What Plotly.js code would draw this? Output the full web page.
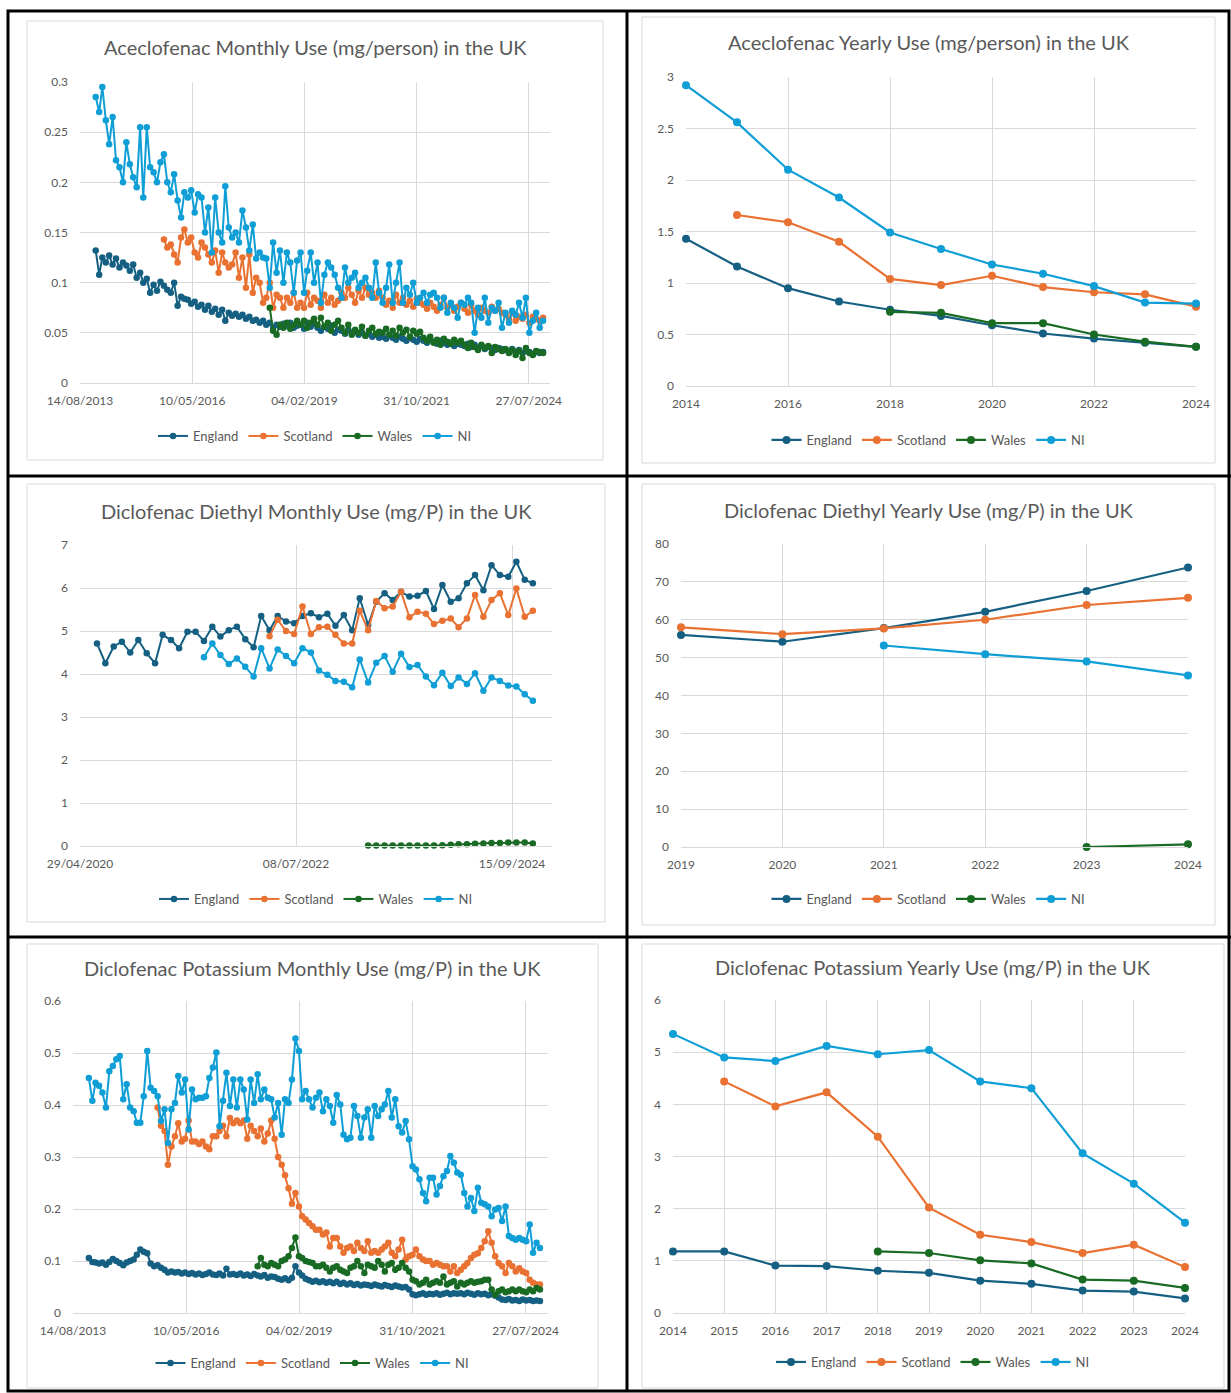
<!DOCTYPE html>
<html>
<head>
<meta charset="utf-8">
<script src="https://cdn.plot.ly/plotly-3.0.1.min.js"></script>
<style>
  html, body { margin: 0; padding: 0; background: #ffffff; }
  #chart { width: 1231px; height: 1393px; }
</style>
</head>
<body>
<div id="chart"></div>
<script>
// ---------- Series names ----------
const regions = ['England', 'Scotland', 'Wales', 'NI'];

// ---------- Aceclofenac monthly use (mg/person) ----------
const accStart = { England: '2014-01', Scotland: '2015-09', Wales: '2018-04', NI: '2014-01' };
const accEngland = [
  0.132, 0.108, 0.125, 0.120, 0.127, 0.118, 0.124, 0.115, 0.120, 0.117, 0.112, 0.118,
  0.105, 0.110, 0.100, 0.104, 0.090, 0.098, 0.092, 0.101, 0.097, 0.093, 0.090, 0.100,
  0.077, 0.086, 0.084, 0.083, 0.079, 0.081, 0.076, 0.078, 0.073, 0.077, 0.071, 0.074,
  0.068, 0.073, 0.062, 0.070, 0.067, 0.069, 0.066, 0.068, 0.064, 0.066, 0.062, 0.063,
  0.060, 0.062, 0.058, 0.060, 0.055, 0.058, 0.056, 0.059, 0.057, 0.060, 0.055, 0.057,
  0.058, 0.054, 0.060, 0.056, 0.059, 0.055, 0.052, 0.056, 0.054, 0.057, 0.050, 0.053,
  0.052, 0.049, 0.053, 0.050, 0.051, 0.048, 0.050, 0.047, 0.049, 0.046, 0.048, 0.045,
  0.046, 0.044, 0.047, 0.045, 0.043, 0.046, 0.044, 0.042, 0.045, 0.043, 0.041, 0.044,
  0.042, 0.040, 0.043, 0.041, 0.039, 0.042, 0.040, 0.038, 0.040, 0.037, 0.039, 0.038,
  0.037, 0.039, 0.036, 0.038, 0.035, 0.037, 0.034, 0.036, 0.035, 0.033, 0.035, 0.034,
  0.033, 0.032, 0.034, 0.031, 0.033, 0.030, 0.032, 0.031, 0.029, 0.031, 0.030, 0.031
];
const accScotland = [
  0.143, 0.135, 0.138, 0.128,
  0.120, 0.145, 0.153, 0.140, 0.145, 0.130, 0.125, 0.140, 0.135, 0.128, 0.120, 0.132,
  0.110, 0.130, 0.120, 0.115, 0.118, 0.130, 0.105, 0.125, 0.095, 0.128, 0.090, 0.105,
  0.100, 0.080, 0.085, 0.100, 0.075, 0.088, 0.085, 0.075, 0.085, 0.080, 0.090, 0.075,
  0.080, 0.075, 0.090, 0.078, 0.085, 0.082, 0.075, 0.088, 0.080, 0.085, 0.078, 0.082,
  0.090, 0.085, 0.095, 0.088, 0.080, 0.092, 0.085, 0.095, 0.088, 0.090, 0.085, 0.092,
  0.085, 0.078, 0.082, 0.075, 0.088, 0.080, 0.085, 0.078, 0.082, 0.076, 0.084, 0.080,
  0.078, 0.074, 0.080, 0.076, 0.072, 0.078, 0.085, 0.075, 0.078, 0.072, 0.076, 0.080,
  0.074, 0.070, 0.078, 0.072, 0.068, 0.075, 0.072, 0.070, 0.076, 0.072, 0.074, 0.070,
  0.068, 0.064, 0.070, 0.062, 0.066, 0.064, 0.068, 0.060, 0.066, 0.064, 0.062, 0.065
];
const accWales = [
  0.075, 0.052, 0.048, 0.058, 0.055, 0.060, 0.054, 0.058, 0.062,
  0.058, 0.062, 0.055, 0.060, 0.064, 0.058, 0.065, 0.056, 0.060, 0.052, 0.058, 0.062,
  0.055, 0.050, 0.058, 0.048, 0.053, 0.050, 0.056, 0.047, 0.052, 0.055, 0.049, 0.051,
  0.050, 0.054, 0.048, 0.052, 0.047, 0.055, 0.050, 0.053, 0.046, 0.052, 0.049, 0.051,
  0.045, 0.042, 0.046, 0.040, 0.043, 0.038, 0.044, 0.041, 0.039, 0.043, 0.040, 0.042,
  0.038, 0.035, 0.040, 0.036, 0.033, 0.038, 0.035, 0.037, 0.030, 0.036, 0.034, 0.032,
  0.034, 0.030, 0.033, 0.028, 0.032, 0.025, 0.035, 0.030, 0.028, 0.032, 0.031, 0.030
];
const accNI = [
  0.285, 0.270, 0.295, 0.262, 0.238, 0.265, 0.222, 0.215, 0.200, 0.240, 0.218, 0.205,
  0.195, 0.255, 0.185, 0.255, 0.215, 0.210, 0.200, 0.220, 0.228, 0.200, 0.190, 0.208,
  0.182, 0.165, 0.190, 0.185, 0.192, 0.170, 0.188, 0.185, 0.150, 0.175, 0.130, 0.185,
  0.150, 0.140, 0.196, 0.155, 0.145, 0.150, 0.140, 0.172, 0.155, 0.132, 0.158, 0.124,
  0.130, 0.125, 0.124, 0.095, 0.140, 0.110, 0.132, 0.100, 0.130, 0.120, 0.090, 0.122,
  0.130, 0.090, 0.112, 0.130, 0.100, 0.120, 0.080, 0.108, 0.120, 0.115, 0.108, 0.095,
  0.085, 0.115, 0.100, 0.105, 0.110, 0.095, 0.100, 0.105, 0.095, 0.085, 0.120, 0.090,
  0.080, 0.095, 0.118, 0.080, 0.100, 0.120, 0.080, 0.095, 0.088, 0.100, 0.080, 0.085,
  0.090, 0.080, 0.088, 0.090, 0.085, 0.075, 0.085, 0.070, 0.080, 0.075, 0.065, 0.080,
  0.078, 0.085, 0.080, 0.050, 0.075, 0.065, 0.085, 0.060, 0.075, 0.072, 0.080, 0.055,
  0.070, 0.060, 0.072, 0.068, 0.080, 0.065, 0.085, 0.050, 0.062, 0.070, 0.055, 0.062
];

// ---------- Aceclofenac yearly use (mg/person) ----------
const accYears = { England: [2014, 2015, 2016, 2017, 2018, 2019, 2020, 2021, 2022, 2023, 2024],
                   Scotland: [2015, 2016, 2017, 2018, 2019, 2020, 2021, 2022, 2023, 2024],
                   Wales: [2018, 2019, 2020, 2021, 2022, 2023, 2024],
                   NI: [2014, 2015, 2016, 2017, 2018, 2019, 2020, 2021, 2022, 2023, 2024] };
const accYearEngland = [1.43, 1.16, 0.95, 0.82, 0.74, 0.68, 0.59, 0.51, 0.46, 0.42, 0.38];
const accYearScotland = [1.66, 1.59, 1.40, 1.04, 0.98, 1.07, 0.96, 0.91, 0.89, 0.77];
const accYearWales = [0.72, 0.71, 0.61, 0.61, 0.50, 0.43, 0.38];
const accYearNI = [2.92, 2.56, 2.10, 1.83, 1.49, 1.33, 1.18, 1.09, 0.97, 0.81, 0.80];

// ---------- Diclofenac diethyl monthly use (mg/P) ----------
const ddStart = { England: '2020-07', Scotland: '2022-04', Wales: '2023-04', NI: '2021-08' };
const ddEngland = [
  4.71, 4.25, 4.64, 4.75, 4.50, 4.79, 4.48, 4.25, 4.91, 4.79, 4.60, 4.98, 4.98, 4.77,
  5.10, 4.87, 5.02, 5.10, 4.81, 4.62, 5.35, 5.02, 5.35, 5.22, 5.18, 5.35, 5.41, 5.32,
  5.40, 5.12, 5.37, 5.02, 5.76, 5.14, 5.68, 5.88, 5.72, 5.91, 5.80, 5.82, 5.93, 5.51,
  6.07, 5.68, 5.76, 6.11, 6.30, 5.95, 6.53, 6.30, 6.26, 6.61, 6.19, 6.11
];
const ddScotland = [
  4.88, 5.26, 5.00, 4.93, 5.57, 4.93, 5.09, 5.10, 4.91, 4.71, 4.71, 5.47, 5.02, 5.70,
  5.53, 5.57, 5.91, 5.32, 5.45, 5.40, 5.16, 5.24, 5.29, 5.09, 5.29, 5.84, 5.33, 5.72,
  5.88, 5.37, 5.99, 5.33, 5.47
];
const ddWales = [
  0.01, 0.01, 0.01, 0.01, 0.01, 0.01, 0.01, 0.01, 0.01, 0.02, 0.03, 0.04, 0.04, 0.05,
  0.06, 0.07, 0.07, 0.08, 0.08, 0.08, 0.06
];
const ddNI = [
  4.39, 4.71, 4.44, 4.23, 4.36, 4.17, 3.94, 4.60, 4.13, 4.57, 4.42, 4.25, 4.60, 4.50,
  4.08, 3.98, 3.84, 3.82, 3.69, 4.34, 3.80, 4.26, 4.42, 4.05, 4.47, 4.16, 4.21, 3.94,
  3.74, 4.03, 3.72, 3.92, 3.77, 4.02, 3.61, 3.92, 3.84, 3.73, 3.71, 3.53, 3.38
];

// ---------- Diclofenac diethyl yearly use (mg/P) ----------
const ddYears = { England: [2019, 2020, 2021, 2022, 2023, 2024],
                  Scotland: [2019, 2020, 2021, 2022, 2023, 2024],
                  Wales: [2023, 2024],
                  NI: [2021, 2022, 2023, 2024] };
const ddYearEngland = [56.0, 54.2, 57.8, 62.1, 67.6, 73.8];
const ddYearScotland = [58.0, 56.2, 57.7, 60.0, 63.9, 65.8];
const ddYearWales = [0.0, 0.7];
const ddYearNI = [53.2, 50.9, 49.0, 45.3];

// ---------- Diclofenac potassium monthly use (mg/P) ----------
const dpStart = { England: '2014-01', Scotland: '2015-09', Wales: '2018-02', NI: '2014-01' };
const dpEngland = [
  0.106, 0.098, 0.097, 0.095, 0.097, 0.093, 0.098, 0.104, 0.100, 0.096, 0.092, 0.097,
  0.100, 0.103, 0.112, 0.122, 0.118, 0.115, 0.095, 0.090, 0.092, 0.087, 0.083, 0.078,
  0.080, 0.078, 0.079, 0.076, 0.078, 0.075, 0.077, 0.074, 0.076, 0.073, 0.075, 0.078,
  0.074, 0.073, 0.076, 0.072, 0.085, 0.074, 0.075, 0.073, 0.076, 0.072, 0.074, 0.071,
  0.075, 0.072, 0.070, 0.073, 0.068, 0.070, 0.069, 0.066, 0.064, 0.067, 0.063, 0.068,
  0.090, 0.078, 0.072, 0.066, 0.063, 0.060, 0.062, 0.059, 0.061, 0.058, 0.060, 0.057,
  0.060, 0.056, 0.058, 0.055, 0.057, 0.054, 0.056, 0.053, 0.055, 0.054, 0.052, 0.055,
  0.053, 0.051, 0.054, 0.052, 0.050, 0.053, 0.051, 0.049, 0.050, 0.045, 0.036, 0.034,
  0.036, 0.038, 0.035, 0.037, 0.036, 0.038, 0.035, 0.037, 0.039, 0.036, 0.038, 0.037,
  0.038, 0.036, 0.039, 0.037, 0.035, 0.038, 0.036, 0.037, 0.034, 0.036, 0.033, 0.030,
  0.026, 0.025, 0.027, 0.024, 0.025, 0.023, 0.026, 0.024, 0.025, 0.023, 0.024, 0.023
];
const dpScotland = [
  0.395, 0.360, 0.350, 0.285,
  0.320, 0.340, 0.365, 0.330, 0.335, 0.370, 0.330, 0.330, 0.325, 0.330, 0.320, 0.315,
  0.340, 0.340, 0.350, 0.360, 0.340, 0.375, 0.365, 0.370, 0.365, 0.370, 0.335, 0.360,
  0.350, 0.340, 0.355, 0.330, 0.345, 0.370, 0.335, 0.300, 0.285, 0.265, 0.240, 0.210,
  0.231, 0.205, 0.186, 0.180, 0.173, 0.167, 0.160, 0.160, 0.151, 0.155, 0.128, 0.144,
  0.144, 0.128, 0.116, 0.125, 0.128, 0.119, 0.135, 0.125, 0.119, 0.138, 0.116, 0.119,
  0.116, 0.122, 0.128, 0.135, 0.116, 0.109, 0.122, 0.141, 0.103, 0.109, 0.112, 0.122,
  0.109, 0.103, 0.100, 0.100, 0.093, 0.096, 0.093, 0.090, 0.090, 0.080, 0.090, 0.077,
  0.083, 0.090, 0.096, 0.106, 0.112, 0.115, 0.125, 0.138, 0.157, 0.135, 0.109, 0.096,
  0.090, 0.077, 0.096, 0.090, 0.080, 0.086, 0.080, 0.077, 0.064, 0.058, 0.055, 0.055
];
const dpWales = [
  0.090, 0.106, 0.093, 0.090, 0.096, 0.093, 0.090, 0.100, 0.103, 0.109, 0.125,
  0.145, 0.109, 0.106, 0.100, 0.098, 0.096, 0.090, 0.090, 0.093, 0.087, 0.080, 0.087,
  0.090, 0.083, 0.080, 0.077, 0.087, 0.090, 0.100, 0.090, 0.077, 0.093, 0.090, 0.087,
  0.100, 0.093, 0.080, 0.093, 0.096, 0.083, 0.087, 0.096, 0.087, 0.080, 0.064, 0.061,
  0.055, 0.058, 0.064, 0.055, 0.058, 0.061, 0.058, 0.070, 0.055, 0.058, 0.061, 0.051,
  0.058, 0.055, 0.058, 0.061, 0.058, 0.060, 0.061, 0.064, 0.064, 0.045, 0.035, 0.042,
  0.045, 0.040, 0.042, 0.045, 0.042, 0.045, 0.042, 0.040, 0.045, 0.042, 0.048, 0.045
];
const dpNI = [
  0.452, 0.408, 0.443, 0.437, 0.424, 0.395, 0.465, 0.475, 0.488, 0.494, 0.411, 0.440,
  0.395, 0.388, 0.366, 0.366, 0.417, 0.504, 0.433, 0.427, 0.417, 0.369, 0.392, 0.327,
  0.392, 0.404, 0.456, 0.424, 0.449, 0.353, 0.430, 0.411, 0.414, 0.414, 0.417, 0.452,
  0.472, 0.501, 0.359, 0.408, 0.462, 0.398, 0.449, 0.395, 0.449, 0.430, 0.372, 0.449,
  0.404, 0.459, 0.411, 0.430, 0.414, 0.411, 0.376, 0.404, 0.343, 0.411, 0.404, 0.449,
  0.528, 0.504, 0.411, 0.427, 0.411, 0.395, 0.414, 0.424, 0.388, 0.411, 0.398, 0.366,
  0.419, 0.401, 0.343, 0.334, 0.337, 0.398, 0.379, 0.337, 0.376, 0.392, 0.337, 0.398,
  0.379, 0.392, 0.401, 0.427, 0.376, 0.411, 0.359, 0.347, 0.369, 0.334, 0.282, 0.276,
  0.257, 0.231, 0.215, 0.260, 0.260, 0.228, 0.244, 0.263, 0.273, 0.302, 0.289, 0.270,
  0.266, 0.231, 0.205, 0.221, 0.196, 0.241, 0.212, 0.209, 0.205, 0.186, 0.199, 0.202,
  0.177, 0.205, 0.148, 0.144, 0.141, 0.144, 0.141, 0.138, 0.170, 0.116, 0.135, 0.125
];

// ---------- Diclofenac potassium yearly use (mg/P) ----------
const dpYears = { England: [2014, 2015, 2016, 2017, 2018, 2019, 2020, 2021, 2022, 2023, 2024],
                  Scotland: [2015, 2016, 2017, 2018, 2019, 2020, 2021, 2022, 2023, 2024],
                  Wales: [2018, 2019, 2020, 2021, 2022, 2023, 2024],
                  NI: [2014, 2015, 2016, 2017, 2018, 2019, 2020, 2021, 2022, 2023, 2024] };
const dpYearEngland = [1.18, 1.18, 0.91, 0.90, 0.81, 0.77, 0.62, 0.56, 0.43, 0.41, 0.28];
const dpYearScotland = [4.44, 3.96, 4.23, 3.38, 2.02, 1.50, 1.36, 1.15, 1.31, 0.88];
const dpYearWales = [1.18, 1.15, 1.01, 0.95, 0.64, 0.62, 0.48];
const dpYearNI = [5.35, 4.90, 4.83, 5.12, 4.96, 5.04, 4.44, 4.31, 3.06, 2.48, 1.73];

// ---------- Drawing ----------
const W = 1231, H = 1393;
const FONT = 'Lato, "Open Sans", sans-serif';
const TXT = '#595959';
const GRID = '#d9d9d9';
const colors = { England: '#156082', Scotland: '#E97132', Wales: '#196B24', NI: '#0F9ED5' };

const fx = px => px / W;
const fy = py => 1 - py / H;

// first-of-month dates from a 'YYYY-MM' start
function monthDates(start, n) {
  let [y, m] = start.split('-').map(Number);
  const out = [];
  for (let i = 0; i < n; i++) {
    out.push(y + '-' + String(m).padStart(2, '0') + '-01');
    m++; if (m > 12) { m = 1; y++; }
  }
  return out;
}

const panels = [
  { title: 'Aceclofenac Monthly Use (mg/person) in the UK',
    box: [27, 21, 603, 460], plot: [80, 82, 550, 383], titleY: 47, legendY: 436,
    monthly: true, starts: accStart,
    series: { England: accEngland, Scotland: accScotland, Wales: accWales, NI: accNI },
    xrange: ['2013-08-14', '2025-02-01'], tick0: '2013-08-14', dtickDays: 1000,
    yrange: [0, 0.3], ydtick: 0.05 },
  { title: 'Aceclofenac Yearly Use (mg/person) in the UK',
    box: [642, 17, 1215, 463], plot: [686, 77, 1196, 386], titleY: 42, legendY: 440,
    monthly: false, years: accYears,
    series: { England: accYearEngland, Scotland: accYearScotland, Wales: accYearWales, NI: accYearNI },
    xrange: [2014, 2024], xdtick: 2, yrange: [0, 3], ydtick: 0.5 },
  { title: 'Diclofenac Diethyl Monthly Use (mg/P) in the UK',
    box: [27, 484, 605, 922], plot: [80, 545, 552, 846], titleY: 511, legendY: 899,
    monthly: true, starts: ddStart,
    series: { England: ddEngland, Scotland: ddScotland, Wales: ddWales, NI: ddNI },
    xrange: ['2020-04-29', '2025-02-10'], tick0: '2020-04-29', dtickDays: 800,
    yrange: [0, 7], ydtick: 1 },
  { title: 'Diclofenac Diethyl Yearly Use (mg/P) in the UK',
    box: [642, 484, 1215, 925], plot: [681, 544, 1188, 847], titleY: 510, legendY: 899,
    monthly: false, years: ddYears,
    series: { England: ddYearEngland, Scotland: ddYearScotland, Wales: ddYearWales, NI: ddYearNI },
    xrange: [2019, 2024], xdtick: 1, yrange: [0, 80], ydtick: 10 },
  { title: 'Diclofenac Potassium Monthly Use (mg/P) in the UK',
    box: [27, 944, 598, 1388], plot: [73, 1001, 548, 1313], titleY: 968, legendY: 1363,
    monthly: true, starts: dpStart,
    series: { England: dpEngland, Scotland: dpScotland, Wales: dpWales, NI: dpNI },
    xrange: ['2013-08-14', '2025-02-10'], tick0: '2013-08-14', dtickDays: 1000,
    yrange: [0, 0.6], ydtick: 0.1 },
  { title: 'Diclofenac Potassium Yearly Use (mg/P) in the UK',
    box: [642, 944, 1224, 1388], plot: [673, 1000, 1185, 1313], titleY: 967, legendY: 1362,
    monthly: false, years: dpYears,
    series: { England: dpYearEngland, Scotland: dpYearScotland, Wales: dpYearWales, NI: dpYearNI },
    xrange: [2014, 2024], xdtick: 1, yrange: [0, 6], ydtick: 1 }
];

const traces = [];
const layout = {
  width: W, height: H, autosize: false,
  margin: { l: 0, r: 0, t: 0, b: 0 },
  paper_bgcolor: '#ffffff', plot_bgcolor: 'rgba(0,0,0,0)',
  font: { family: FONT, color: TXT },
  hovermode: false,
  shapes: [], annotations: []
};

panels.forEach((p, i) => {
  const n = i + 1;
  const sfx = n === 1 ? '' : String(n);
  const [l, t, r, b] = p.plot;
  const tickfont = { family: FONT, size: 12, color: TXT };

  const xaxis = {
    domain: [fx(l), fx(r)], anchor: 'y' + sfx,
    showgrid: true, gridcolor: GRID, gridwidth: 1,
    showline: true, linecolor: GRID, linewidth: 1,
    zeroline: false, ticks: '', fixedrange: true,
    tickfont: tickfont, ticklabelstandoff: 7
  };
  if (p.monthly) {
    Object.assign(xaxis, { type: 'date', range: p.xrange, tick0: p.tick0,
      dtick: p.dtickDays * 86400000, tickformat: '%d/%m/%Y' });
  } else {
    Object.assign(xaxis, { type: 'linear', range: p.xrange, tick0: p.xrange[0], dtick: p.xdtick });
  }
  layout['xaxis' + sfx] = xaxis;
  layout['yaxis' + sfx] = {
    domain: [fy(b), fy(t)], anchor: 'x' + sfx,
    range: p.yrange, dtick: p.ydtick, tick0: 0,
    showgrid: true, gridcolor: GRID, gridwidth: 1,
    showline: false, zeroline: false, ticks: '', fixedrange: true,
    tickfont: tickfont, ticklabelstandoff: 11
  };

  regions.forEach(reg => {
    const ys = p.series[reg];
    const xs = p.monthly ? monthDates(p.starts[reg], ys.length) : p.years[reg];
    traces.push({
      type: 'scatter', mode: 'lines+markers', name: reg,
      x: xs, y: ys, xaxis: 'x' + sfx, yaxis: 'y' + sfx, legend: 'legend' + sfx,
      line: { color: colors[reg], width: p.monthly ? 2 : 2.2 },
      marker: { color: colors[reg], size: p.monthly ? 6.5 : 8 },
      cliponaxis: false, showlegend: true
    });
  });

  layout['legend' + sfx] = {
    orientation: 'h', xref: 'paper', yref: 'paper',
    x: fx((p.box[0] + p.box[2]) / 2), y: fy(p.legendY),
    xanchor: 'center', yanchor: 'middle',
    font: { family: FONT, size: 13, color: TXT },
    bgcolor: 'rgba(0,0,0,0)', itemwidth: 30
  };

  // chart frame and title
  layout.shapes.push({
    type: 'rect', xref: 'paper', yref: 'paper',
    x0: fx(p.box[0]), x1: fx(p.box[2]), y0: fy(p.box[3]), y1: fy(p.box[1]),
    line: { color: GRID, width: 1 }, layer: 'below'
  });
  layout.annotations.push({
    xref: 'paper', yref: 'paper', x: fx((p.box[0] + p.box[2]) / 2), y: fy(p.titleY),
    xanchor: 'center', yanchor: 'middle', showarrow: false,
    text: p.title, font: { family: FONT, size: 20, color: TXT }
  });
});

// black table rules between the six charts
const rule = { color: '#000000', width: 3 };
layout.shapes.push(
  { type: 'rect', xref: 'paper', yref: 'paper', x0: fx(8), x1: fx(1229), y0: fy(1391), y1: fy(11), line: rule },
  { type: 'line', xref: 'paper', yref: 'paper', x0: fx(627), x1: fx(627), y0: fy(1391), y1: fy(11), line: rule },
  { type: 'line', xref: 'paper', yref: 'paper', x0: fx(8), x1: fx(1231), y0: fy(476), y1: fy(476), line: rule },
  { type: 'line', xref: 'paper', yref: 'paper', x0: fx(8), x1: fx(1231), y0: fy(937), y1: fy(937), line: rule }
);

Plotly.newPlot('chart', traces, layout, { staticPlot: true, displayModeBar: false });
</script>
</body>
</html>
